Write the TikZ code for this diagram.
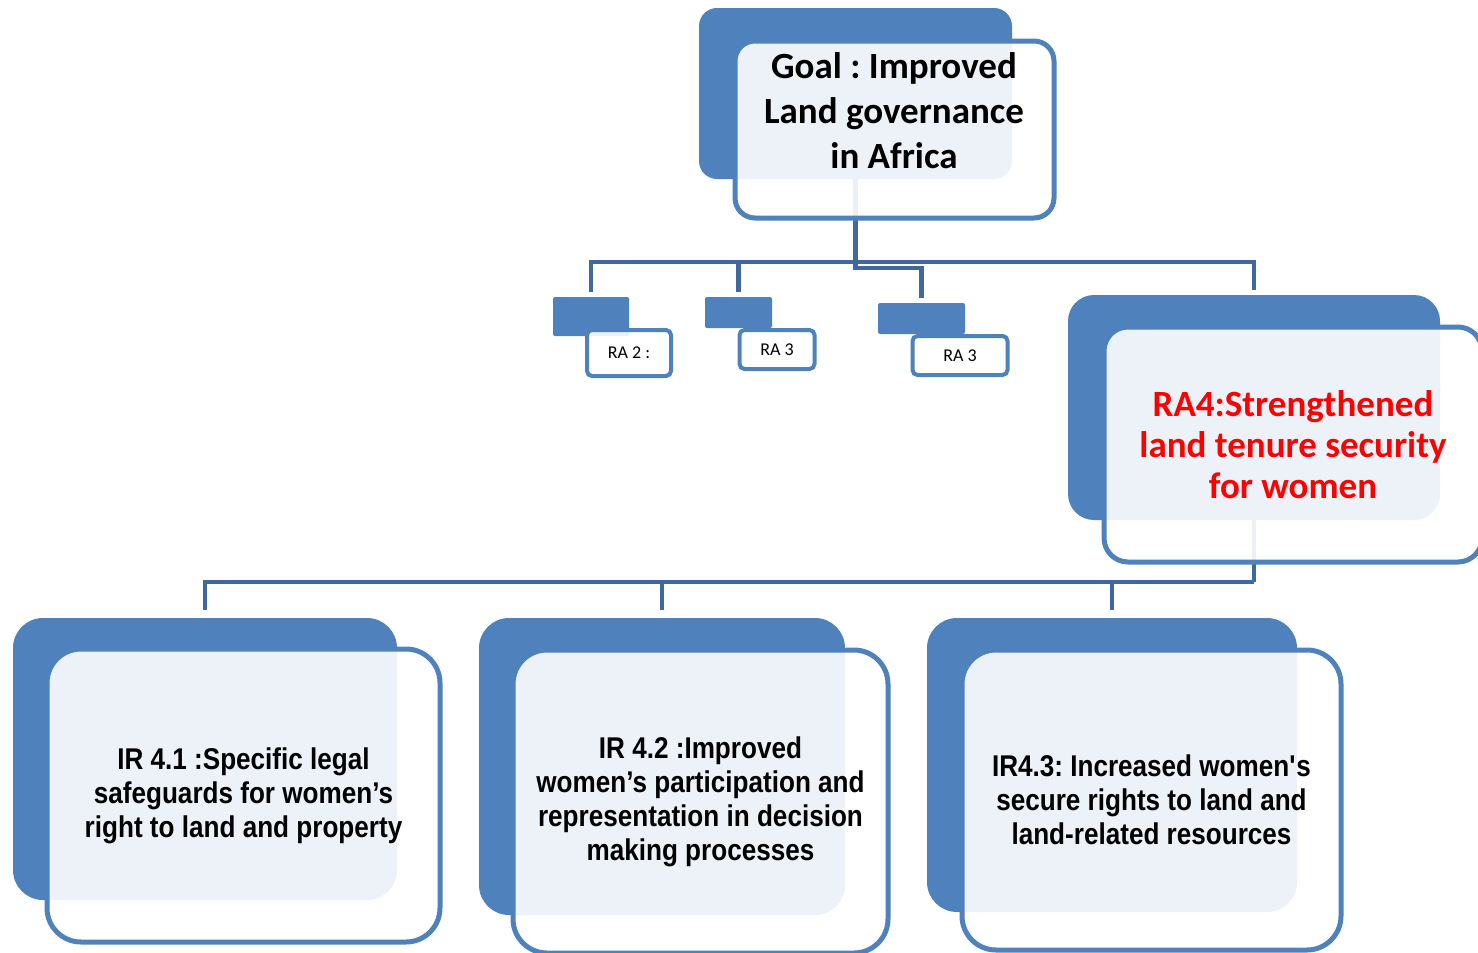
\documentclass[tikz,border=0pt]{standalone}
\usepackage{fontspec}
\setmainfont{Carlito}
\newfontfamily\narrowfont[FakeStretch=0.87]{Liberation Sans}
\frenchspacing

\definecolor{boxblue}{RGB}{79,129,189}
\definecolor{linkblue}{RGB}{64,104,158}
\definecolor{rared}{RGB}{255,0,0}

\tikzset{
  backbox/.style={fill=boxblue, inner sep=0pt},
  frontbox/.style={draw=boxblue, line width=5pt, fill=white, fill opacity=0.9,
    text opacity=1, inner sep=0pt, align=center},
  smallbox/.style={frontbox, line width=4pt, rounded corners=5pt,
    font=\fontsize{18}{22}\selectfont},
  link/.style={draw=linkblue, line width=4.5pt},
  bigtext/.style={align=center, font=\bfseries\fontsize{37}{45}\selectfont},
  irtext/.style={font=\narrowfont\bfseries\fontsize{30}{34}\selectfont}
}

\begin{document}
\begin{tikzpicture}[x=1pt,y=1pt,yscale=-1,xscale=1]
\useasboundingbox (0,0) rectangle (1478,953);

%Back boxes
\node[backbox, minimum width=313, minimum height=171, rounded corners=18] (goal) at (855.5,93.5) {};
\node[backbox, minimum width=76, minimum height=39, rounded corners=2] (ra2) at (591,316.5) {};
\node[backbox, minimum width=67, minimum height=31, rounded corners=2] (ra3a) at (738.5,312.5) {};
\node[backbox, minimum width=87, minimum height=31, rounded corners=2] (ra3b) at (921.5,318.5) {};
\node[backbox, minimum width=372, minimum height=225, rounded corners=26] (ra4) at (1254,407.5) {};
\node[backbox, minimum width=384, minimum height=282, rounded corners=30] (ir1) at (205,759) {};
\node[backbox, minimum width=366, minimum height=297, rounded corners=30] (ir2) at (662,766.5) {};
\node[backbox, minimum width=370, minimum height=294, rounded corners=30] (ir3) at (1112,765) {};

%Connectors: goal to RA boxes
\coordinate (hub) at (goal.south |- 0,262);
\draw[link, shorten >=5] (goal.south) -- (hub) -| (ra2.north);
\draw[link, shorten >=5] (hub) -| (ra4.north);
\draw[link, shorten >=5] (ra3a.north |- hub) -- (ra3a.north);
\draw[link, shorten >=5] (hub) -- ++(0,6) -| (ra3b.north);

%Connectors: RA4 to IR boxes
\coordinate (bus) at (ra4.south |- 0,582);
\draw[link] (ra4.south) -- (bus);
\draw[link, shorten >=8] (bus) -| (ir1.north);
\draw[link, shorten >=8] (ir2.north |- bus) -- (ir2.north);
\draw[link, shorten >=8] (ir3.north |- bus) -- (ir3.north);

%Front boxes
\node[frontbox, minimum width=319, minimum height=177, rounded corners=20] (goal-f) at (894.5,129.5) {};
\node[smallbox, minimum width=84, minimum height=46] (ra2-f) at (629,353) {RA 2 :};
\node[smallbox, minimum width=75, minimum height=39] (ra3a-f) at (777,349.5) {RA 3};
\node[smallbox, minimum width=95, minimum height=39] (ra3b-f) at (960,355.5) {RA 3};
\node[frontbox, minimum width=378, minimum height=235, rounded corners=24, bigtext,
  font=\bfseries\fontsize{37}{41}\selectfont, text=rared] (ra4-f) at (1293,444.5)
  {RA4:Strengthened\\land tenure security\\for women};
\node[frontbox, minimum width=393, minimum height=293, rounded corners=34, irtext] (ir1-f) at (243.5,795.5)
  {IR 4.1 :Specific legal\\safeguards for women’s\\right to land and property};
\node[frontbox, minimum width=375, minimum height=303, rounded corners=34, irtext] (ir2-f) at (700.5,801.5)
  {IR 4.2 :Improved\\women’s participation and\\representation in decision\\making processes};
\node[frontbox, minimum width=379, minimum height=300, rounded corners=34, irtext] (ir3-f) at (1151.5,800)
  {IR4.3: Increased women\textquotesingle s\\secure rights to land and\\land-related resources};

% Text Node
\node[bigtext] (goaltxt) at (894,111) {Goal : Improved\\Land governance\\in Africa};

\end{tikzpicture}
\end{document}
